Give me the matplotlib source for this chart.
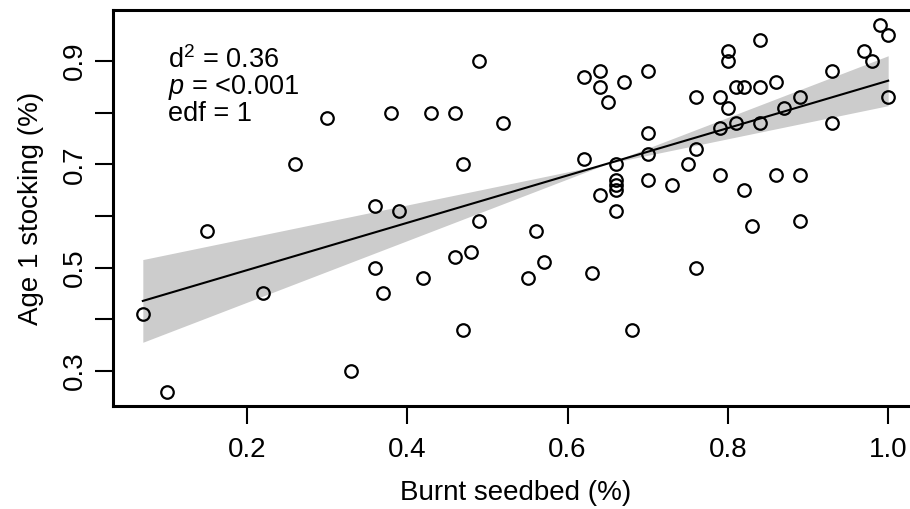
import numpy as np
import matplotlib
matplotlib.use("Agg")
import matplotlib.pyplot as plt

burnt = [0.07, 0.10, 0.15, 0.22, 0.26, 0.30, 0.33, 0.36, 0.36, 0.37,
         0.38, 0.39, 0.42, 0.43, 0.46, 0.46, 0.47, 0.47, 0.48, 0.49,
         0.49, 0.52, 0.55, 0.56, 0.57, 0.62, 0.62, 0.63, 0.64, 0.64,
         0.64, 0.65, 0.66, 0.66, 0.66, 0.66, 0.66, 0.67, 0.68, 0.70,
         0.70, 0.70, 0.70, 0.73, 0.75, 0.76, 0.76, 0.76, 0.79, 0.79,
         0.79, 0.80, 0.80, 0.80, 0.81, 0.81, 0.82, 0.82, 0.83, 0.84,
         0.84, 0.84, 0.86, 0.86, 0.87, 0.89, 0.89, 0.89, 0.93, 0.93,
         0.97, 0.98, 0.99, 1.00, 1.00]
stocking = [0.41, 0.26, 0.57, 0.45, 0.70, 0.79, 0.30, 0.62, 0.50, 0.45,
            0.80, 0.61, 0.48, 0.80, 0.80, 0.52, 0.70, 0.38, 0.53, 0.90,
            0.59, 0.78, 0.48, 0.57, 0.51, 0.87, 0.71, 0.49, 0.88, 0.85,
            0.64, 0.82, 0.70, 0.67, 0.66, 0.65, 0.61, 0.86, 0.38, 0.88,
            0.76, 0.72, 0.67, 0.66, 0.70, 0.83, 0.73, 0.50, 0.83, 0.77,
            0.68, 0.92, 0.90, 0.81, 0.85, 0.78, 0.85, 0.65, 0.58, 0.94,
            0.85, 0.78, 0.86, 0.68, 0.81, 0.83, 0.68, 0.59, 0.88, 0.78,
            0.92, 0.90, 0.97, 0.95, 0.83]

x_ticks = [0.2, 0.4, 0.6, 0.8, 1.0]
x_ticklabels = ["0.2", "0.4", "0.6", "0.8", "1.0"]
y_ticks = [0.3, 0.4, 0.5, 0.6, 0.7, 0.8, 0.9]
y_ticklabels = ["0.3", "", "0.5", "", "0.7", "", "0.9"]

stats_lines = [r"d$^2$ = 0.36", r"$p$ = <0.001", "edf = 1"]

plt.rcParams['font.family'] = ['Liberation Sans', 'DejaVu Sans']
plt.rcParams['mathtext.fontset'] = 'custom'
plt.rcParams['mathtext.rm'] = 'Liberation Sans'
plt.rcParams['mathtext.it'] = 'Liberation Sans:italic'

x = np.array(burnt)
y = np.array(stocking)

# linear fit (edf = 1) and centred-term confidence band (+/- 2 se)
b, a = np.polyfit(x, y, 1)
resid = y - (a + b * x)
n = len(x)
sigma2 = np.sum(resid ** 2) / (n - 2)
se_b = np.sqrt(sigma2 / np.sum((x - x.mean()) ** 2))
xs = np.linspace(x.min(), x.max(), 200)
fit = a + b * xs
half = 2 * se_b * np.abs(xs - x.mean())

fig = plt.figure(figsize=(9.10, 5.09), dpi=100)
ax = fig.add_axes([113 / 910, 1 - 406.3 / 509, 805 / 910, (406.3 - 10.2) / 509])

ax.fill_between(xs, fit - half, fit + half, color="#cccccc", linewidth=0, zorder=1)
ax.plot(xs, fit, color="black", linewidth=1.5, zorder=2)
ax.plot(x, y, linestyle="none", marker="o", markersize=9.0,
        markerfacecolor="none", markeredgecolor="black", markeredgewidth=1.6, zorder=3)

xr = x.max() - x.min()
yr = y.max() - y.min()
ax.set_xlim(x.min() - 0.04 * xr, x.max() + 0.04 * xr)
ax.set_ylim(y.min() - 0.04 * yr, y.max() + 0.04 * yr)

ax.set_xticks(x_ticks)
ax.set_xticklabels(x_ticklabels)
ax.set_yticks(y_ticks)
ax.set_yticklabels(y_ticklabels, rotation=90, va="center")
ax.tick_params(axis="both", length=13, width=1.5, labelsize=20, color="black")
ax.tick_params(axis="x", pad=9)
ax.tick_params(axis="y", pad=5)

for s in ax.spines.values():
    s.set_linewidth(2.2)

ax.set_xlabel("Burnt seedbed (%)", fontsize=20, labelpad=12)
ax.set_ylabel("Age 1 stocking (%)", fontsize=20, labelpad=13)

for i, yb in enumerate([68, 94, 121]):
    ax.text(168 / 910, 1 - yb / 509, stats_lines[i], transform=fig.transFigure,
            fontsize=19.5, va="baseline", ha="left")

fig.savefig("out.png", dpi=100)
